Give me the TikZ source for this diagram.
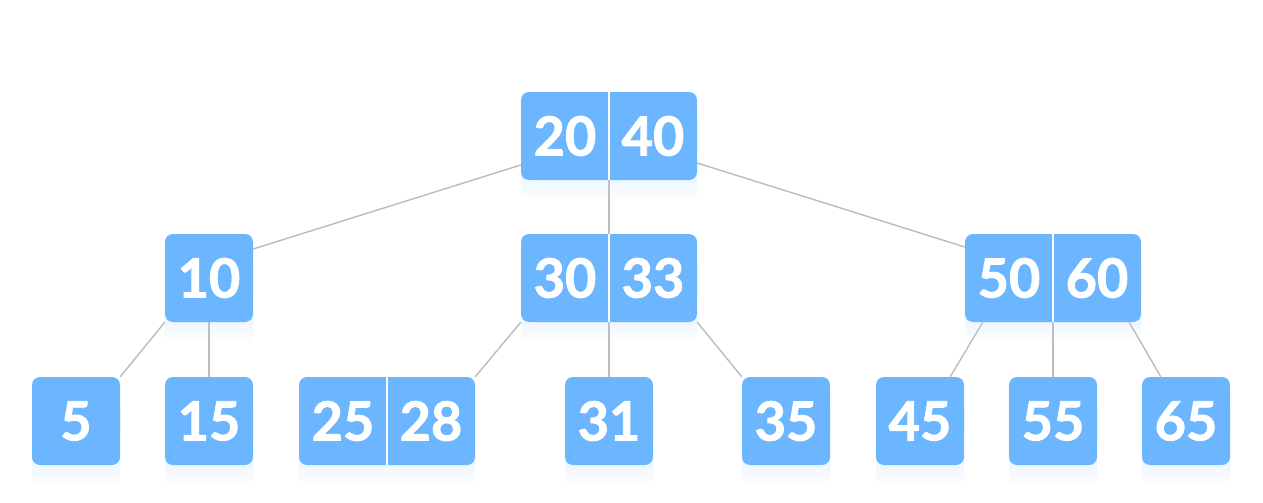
\documentclass[tikz,border=0pt]{standalone}
\usepackage{fontspec}
\setmainfont{Lato}[BoldFeatures={FakeBold=1.6}]
\usetikzlibrary{calc}
\usetikzlibrary{backgrounds}
\usetikzlibrary{shadows}
\usetikzlibrary{fadings}
\definecolor{keyblue}{HTML}{6CB5FF}
\definecolor{linkgray}{HTML}{BBBBBB}
\tikzset{
  bnode/.style={rectangle,fill=keyblue,rounded corners=8pt,minimum width=88pt,minimum height=88pt,inner sep=0pt,
    general shadow={shadow xshift=0pt,shadow yshift=-22pt,fill=keyblue!45,path fading=south}},
  bnodetwo/.style={bnode,minimum width=176pt},
  keytext/.style={text=white,inner sep=0pt,font=\bfseries\fontsize{54}{60}\selectfont},
  divider/.style={draw=white,line width=1.5pt},
  link/.style={draw=linkgray,line width=1.4pt},
}

\begin{document}
\begin{tikzpicture}[x=1pt,y=-1pt]
\useasboundingbox (0,0) rectangle (1263,503);
% root
\node[bnodetwo] (root) at (609,136) {};
% middle level
\node[bnode] (n10) at (209,278) {};
\node[bnodetwo] (n30) at (609,278) {};
\node[bnodetwo] (n50) at (1053,278) {};
% leaves
\node[bnode] (n5) at (76,421) {};
\node[bnode] (n15) at (209,421) {};
\node[bnodetwo] (n25) at (387,421) {};
\node[bnode] (n31) at (609,421) {};
\node[bnode] (n35) at (786,421) {};
\node[bnode] (n45) at (920,421) {};
\node[bnode] (n55) at (1053,421) {};
\node[bnode] (n65) at (1186,421) {};
% split lines
\foreach \n in {root,n30,n50,n25}
  \draw[divider] (\n.north) -- (\n.south);
% keys
\node[keytext] (k20) at ($(root.center)+(-44,0)$) {20};
\node[keytext] (k40) at ($(root.center)+(44,0)$) {40};
\node[keytext] (k10) at (n10) {10};
\node[keytext] (k30) at ($(n30.center)+(-44,0)$) {30};
\node[keytext] (k33) at ($(n30.center)+(44,0)$) {33};
\node[keytext] (k50) at ($(n50.center)+(-44,0)$) {50};
\node[keytext] (k60) at ($(n50.center)+(44,0)$) {60};
\node[keytext] (k5) at (n5) {5};
\node[keytext] (k15) at (n15) {15};
\node[keytext] (k25) at ($(n25.center)+(-44,0)$) {25};
\node[keytext] (k28) at ($(n25.center)+(44,0)$) {28};
\node[keytext] (k31) at (n31) {31};
\node[keytext] (k35) at (n35) {35};
\node[keytext] (k45) at (n45) {45};
\node[keytext] (k55) at (n55) {55};
\node[keytext] (k65) at (n65) {65};
% links
\begin{scope}[on background layer]
\draw[link] ($(root.west)+(0,29)$) -- ($(n10.east)+(0,-29)$);
\draw[link] (root.south) -- (n30.north);
\draw[link] ($(root.east)+(0,27)$) -- ($(n50.west)+(0,-31)$);
\draw[link] (n10.south west) -- (n5.north east);
\draw[link] (n10.south) -- (n15.north);
\draw[link] (n30.south west) -- (n25.north east);
\draw[link] (n30.south) -- (n31.north);
\draw[link] (n30.south east) -- (n35.north west);
\draw[link] ($(n50.south west)+(18,0)$) -- ($(n45.north east)+(-14,0)$);
\draw[link] (n50.south) -- (n55.north);
\draw[link] ($(n50.south east)+(-12,0)$) -- ($(n65.north west)+(19,0)$);
\end{scope}
\end{tikzpicture}
\end{document}
